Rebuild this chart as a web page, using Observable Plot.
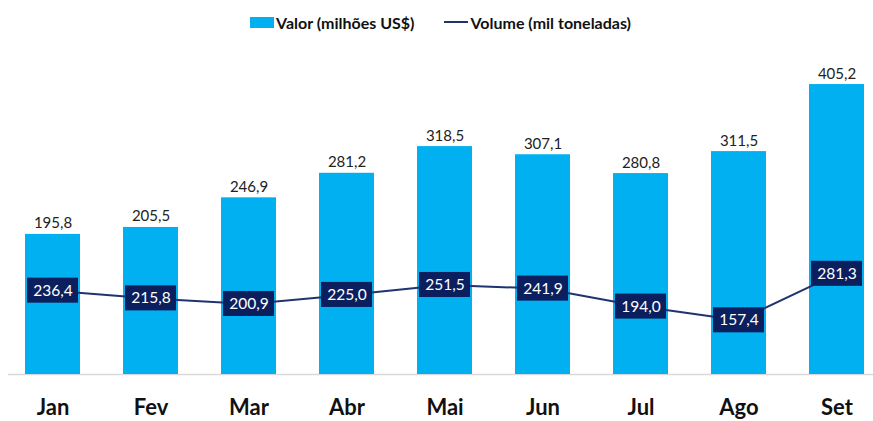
<!DOCTYPE html>
<html><head><meta charset="utf-8">
<script src="https://cdn.jsdelivr.net/npm/d3@7"></script>
<script src="https://cdn.jsdelivr.net/npm/@observablehq/plot@0.6"></script>
<style>
html,body{margin:0;padding:0;background:#fff;overflow:hidden;}
#legend{height:44px;display:flex;justify-content:center;align-items:center;gap:30px;font-family:Lato,"Noto Sans",sans-serif;font-weight:bold;font-size:16px;color:#111;padding-left:8px;}
.item{display:flex;align-items:center;}
.sw{display:inline-block;width:24px;margin-right:2px;}
</style></head>
<body>
<div id="legend">
  <span class="item"><span class="sw" style="height:11px;background:#00B0F0"></span>Valor (milhões US$)</span>
  <span class="item"><span class="sw" style="height:2px;background:#1F3370"></span>Volume (mil toneladas)</span>
</div>
<div id="chart"></div>
<script>
const months = ["Jan","Fev","Mar","Abr","Mai","Jun","Jul","Ago","Set"];
const valor = [195.8, 205.5, 246.9, 281.2, 318.5, 307.1, 280.8, 311.5, 405.2];
const volume = [236.4, 215.8, 200.9, 225.0, 251.5, 241.9, 194.0, 157.4, 281.3];
const yDomain = [0, 450];        // primary axis (valor)
const volDomain = [13, 871];     // secondary axis (volume), mapped onto primary

const toPrimary = v => (v - volDomain[0]) / (volDomain[1] - volDomain[0]) * (yDomain[1] - yDomain[0]) + yDomain[0];
const fmt = v => v.toFixed(1).replace(".", ",");
const boxHalf = 17.5;

const data = months.map((m, i) => ({
  month: m, valor: valor[i], volume: volume[i], volU: toPrimary(volume[i])
}));

const chart = Plot.plot({
  width: 873,
  height: 377,
  marginLeft: 8,
  marginRight: 0,
  marginTop: 8,
  marginBottom: 47,
  style: {fontFamily: "Lato, 'Noto Sans', sans-serif", background: "#fff"},
  x: {domain: months, range: [8, 880], paddingInner: 0.44, paddingOuter: 0.163, label: null},
  y: {domain: yDomain, axis: null},
  marks: [
    Plot.ruleY([0], {stroke: "#d9d9d9", strokeWidth: 1.5}),
    Plot.barY(data, {x: "month", y: "valor", fill: "#00B0F0"}),
    Plot.text(data, {x: "month", y: "valor", text: d => fmt(d.valor), dy: -6, lineAnchor: "bottom", fontSize: 15, fill: "#222"}),
    Plot.line(data, {x: "month", y: "volU", stroke: "#1F3370", strokeWidth: 2}),
    Plot.barY(data, {x: "month", y1: d => d.volU - boxHalf, y2: d => d.volU + boxHalf, fill: "#0B1F5E", insetLeft: 2, insetRight: 2}),
    Plot.text(data, {x: "month", y: "volU", text: d => fmt(d.volume), fill: "white", fontSize: 15.5}),
    Plot.axisX({tickSize: 0, tickPadding: 25, fontSize: 22, fontWeight: "bold", fill: "#111"})
  ]
});
document.getElementById("chart").appendChild(chart);
</script>
</body></html>
